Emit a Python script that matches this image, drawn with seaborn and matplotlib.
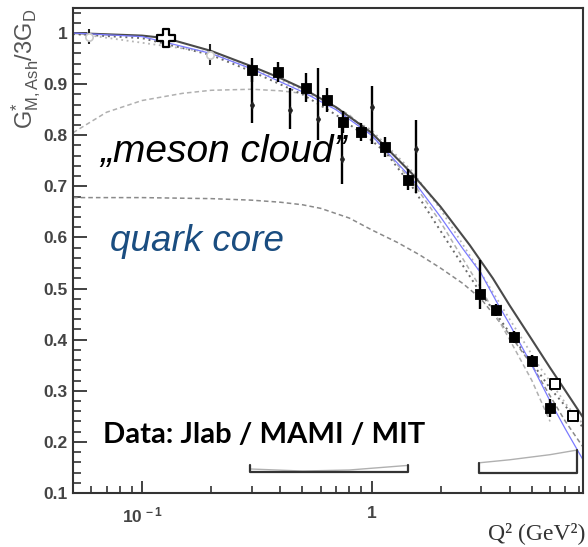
import numpy as np
import pandas as pd
import matplotlib
matplotlib.use("Agg")
import matplotlib.pyplot as plt
from matplotlib.ticker import MultipleLocator, LogLocator, NullFormatter
import seaborn as sns

# ---------------- data ----------------
# filled squares (JLab / MAMI)
sq_x = [0.30, 0.39, 0.52, 0.64, 0.75, 0.90, 1.14, 1.44, 2.96, 3.48, 4.17, 5.0, 6.0]
sq_y = [0.928, 0.924, 0.893, 0.869, 0.826, 0.806, 0.777, 0.713, 0.489, 0.458, 0.405, 0.358, 0.266]
sq_lo = [0.023, 0.020, 0.028, 0.024, 0.022, 0.018, 0.020, 0.020, 0.029, 0.012, 0.012, 0.012, 0.017]
sq_hi = [0.023, 0.020, 0.028, 0.024, 0.022, 0.018, 0.020, 0.020, 0.067, 0.012, 0.012, 0.012, 0.017]

# small points with large error bars
pt_x = [0.30, 0.443, 0.587, 0.747, 1.0, 1.56]
pt_y = [0.859, 0.849, 0.832, 0.754, 0.855, 0.773]
pt_lo = [0.035, 0.037, 0.041, 0.049, 0.072, 0.086]
pt_hi = [0.070, 0.044, 0.100, 0.070, 0.041, 0.057]

# faint low-Q2 points
fp_x = [0.059, 0.198]
fp_y = [0.993, 0.958]
fp_err = [0.014, 0.020]

# open cross (real photon point)
oc_x = [0.127]
oc_y = [0.990]

# open squares
os_x = [6.3, 7.55]
os_y = [0.313, 0.251]

# model curves
solid_x = [0.05, 0.1, 0.127, 0.2, 0.3, 0.4, 0.5, 0.7, 1.0, 1.5, 2.0, 2.68, 3.38, 4.0, 5.0, 6.0, 7.0, 8.35]
solid_y = [1.0, 0.995, 0.99, 0.965, 0.935, 0.912, 0.892, 0.855, 0.805, 0.725, 0.66, 0.585, 0.52, 0.467, 0.40, 0.345, 0.30, 0.248]

blue_x = [0.05, 0.1, 0.2, 0.3, 0.5, 0.7, 1.0, 1.5, 2.0, 2.5, 3.0, 3.5, 4.0, 5.0, 6.0, 7.0, 8.35]
blue_y = [1.0, 0.993, 0.960, 0.930, 0.885, 0.850, 0.800, 0.715, 0.640, 0.578, 0.530, 0.475, 0.430, 0.350, 0.280, 0.225, 0.165]

dot_x = [0.05, 0.1, 0.2, 0.3, 0.5, 0.7, 1.0, 1.16, 1.5, 2.12, 3.0, 3.5, 4.2, 5.0, 6.0, 7.0, 8.35]
dot_y = [0.998, 0.990, 0.957, 0.925, 0.880, 0.840, 0.790, 0.765, 0.700, 0.595, 0.490, 0.450, 0.400, 0.355, 0.305, 0.270, 0.228]

ldot_x = [0.05, 0.2, 0.5, 1.0, 1.5, 2.0, 3.0, 4.0, 5.4, 7.2, 8.35]
ldot_y = [1.0, 0.962, 0.890, 0.810, 0.730, 0.655, 0.530, 0.440, 0.347, 0.268, 0.235]

meson_x = [0.05, 0.07, 0.1, 0.15, 0.2, 0.3, 0.4, 0.5, 0.6, 0.8, 1.0, 1.5, 2.0, 3.0, 4.0, 5.0, 6.0]
meson_y = [0.805, 0.845, 0.868, 0.882, 0.888, 0.890, 0.887, 0.882, 0.872, 0.840, 0.800, 0.710, 0.630, 0.500, 0.400, 0.320, 0.240]

quark_x = [0.05, 0.1, 0.2, 0.3, 0.4, 0.5, 0.6, 0.8, 1.0, 1.3, 1.62, 2.0, 2.5, 3.0, 4.0, 5.0, 6.0, 7.0, 8.35]
quark_y = [0.678, 0.678, 0.676, 0.673, 0.669, 0.664, 0.657, 0.638, 0.615, 0.590, 0.566, 0.540, 0.510, 0.480, 0.410, 0.350, 0.290, 0.240, 0.190]

# systematic-error brackets
br1_x = [0.296, 0.296, 1.44, 1.44]
br1_y = [0.155, 0.141, 0.141, 0.155]
br2_x = [2.93, 2.93, 7.86, 7.86]
br2_y = [0.159, 0.139, 0.139, 0.184]
sys1_x = [0.296, 0.5, 0.8, 1.44]
sys1_y = [0.147, 0.143, 0.145, 0.154]
sys2_x = [2.93, 4.0, 6.0, 7.86]
sys2_y = [0.159, 0.165, 0.175, 0.184]

yticks = [0.1, 0.2, 0.3, 0.4, 0.5, 0.6, 0.7, 0.8, 0.9, 1.0]
ytick_labels = ["0.1", "0.2", "0.3", "0.4", "0.5", "0.6", "0.7", "0.8", "0.9", "1"]
xticks = [0.1, 1.0]
xtick_labels = [r"$\mathbf{10^{\,-1}}$", r"$\mathbf{1}$"]

# ---------------- style ----------------
sns.set_theme(style="white")
plt.rcParams['font.family'] = ['Liberation Sans', 'DejaVu Sans']
plt.rcParams['mathtext.fontset'] = 'custom'
plt.rcParams['mathtext.rm'] = 'Liberation Sans'
plt.rcParams['mathtext.it'] = 'Liberation Sans:italic'
plt.rcParams['mathtext.bf'] = 'Liberation Sans:bold'

fig = plt.figure(figsize=(5.88, 5.47), dpi=100)
ax = fig.add_axes([73/588, 1-493/547, 510/588, 485/547])
ax.set_xscale('log')


def line(xs, ys, **kw):
    sns.lineplot(x=xs, y=ys, ax=ax, sort=False, estimator=None, errorbar=None, **kw)


# curves
line(quark_x, quark_y, color='#8a8a8a', lw=1.1, linestyle=(0, (3, 2)))
line(meson_x, meson_y, color='#b0b0b0', lw=1.1, linestyle=(0, (3, 2)))
line(ldot_x, ldot_y, color='#b5b5b5', lw=1.3, linestyle=(0, (1, 2)))
line(dot_x, dot_y, color='#6a6a6a', lw=1.4, linestyle=(0, (1, 2)))
line(solid_x, solid_y, color='#4a4a4a', lw=1.5)
line(blue_x, blue_y, color='#7a7aff', lw=0.9)

# systematic brackets
line(sys1_x, sys1_y, color='#b0b0b0', lw=1.0)
line(sys2_x, sys2_y, color='#b0b0b0', lw=1.0)
line(br1_x, br1_y, color='#333333', lw=1.6)
line(br2_x, br2_y, color='#333333', lw=1.6)

# error bars
ax.errorbar(pt_x, pt_y, yerr=[pt_lo, pt_hi], fmt='none', ecolor='black', elinewidth=1.7, capsize=0, zorder=4)
ax.errorbar(sq_x, sq_y, yerr=[sq_lo, sq_hi], fmt='none', ecolor='black', elinewidth=1.7, capsize=0, zorder=4)
ax.errorbar(fp_x, fp_y, yerr=fp_err, fmt='none', ecolor='#222222', elinewidth=1.5, capsize=0, zorder=4)

# markers
sns.scatterplot(x=fp_x, y=fp_y, ax=ax, marker='o', s=28, color='white', edgecolor='#c8c8c8', linewidth=1.2, zorder=5)
sns.scatterplot(x=pt_x, y=pt_y, ax=ax, marker='d', s=16, color='#222222', edgecolor='#222222', zorder=5)
sns.scatterplot(x=sq_x, y=sq_y, ax=ax, marker='s', s=58, color='black', edgecolor='black', zorder=6)
sns.scatterplot(x=oc_x, y=oc_y, ax=ax, marker='P', s=150, color='white', edgecolor='black', linewidth=1.6, zorder=6)
sns.scatterplot(x=os_x, y=os_y, ax=ax, marker='s', s=60, color='white', edgecolor='black', linewidth=1.4, zorder=6)

ax.set_xlim(0.05, 8.35)
ax.set_ylim(0.1, 1.049)

# axes / ticks
for s in ax.spines.values():
    s.set_color('#333333')
    s.set_linewidth(1.5)
    s.set_visible(True)

ax.set_yticks(yticks)
ax.set_yticklabels(ytick_labels)
ax.yaxis.set_minor_locator(MultipleLocator(0.02))
ax.set_xticks(xticks)
ax.set_xticklabels(xtick_labels)
ax.xaxis.set_minor_locator(LogLocator(base=10, subs=np.arange(2, 10)))
ax.xaxis.set_minor_formatter(NullFormatter())

ax.tick_params(axis='y', which='major', direction='in', length=10, width=1.3, left=True, right=False,
               labelsize=12.5, labelcolor='#444444', color='#333333', pad=4)
ax.tick_params(axis='y', which='minor', direction='in', length=6, width=1.2, left=True, right=False, color='#333333')
ax.tick_params(axis='x', which='major', direction='in', length=9, width=1.3, bottom=True, top=False,
               labelsize=12.5, labelcolor='#444444', color='#333333', pad=9)
ax.tick_params(axis='x', which='minor', direction='in', length=5, width=1.2, bottom=True, top=False, color='#333333')
for lbl in ax.get_yticklabels():
    lbl.set_fontweight('bold')

# texts
ax.text(0.053, 0.682, "\u201emeson cloud\u201d", transform=ax.transAxes, fontsize=28, style='italic',
        color='black', ha='left', va='baseline', family=['Liberation Sans', 'DejaVu Sans'])
ax.text(0.0725, 0.499, "quark core", transform=ax.transAxes, fontsize=26.5, style='italic',
        color='#1a4d80', ha='left', va='baseline', family=['Liberation Sans', 'DejaVu Sans'])
ax.text(0.0588, 0.103, "Data: Jlab / MAMI / MIT", transform=ax.transAxes, fontsize=21, fontweight='bold',
        color='black', ha='left', va='baseline', family=['Lato', 'DejaVu Sans'])

fig.text(26/588, 1-9/547, r"$\mathregular{G^{*}_{M,Ash}/3G_D}$", rotation=90, ha='center', va='top',
         fontsize=17, color='#555555')
fig.text(585/588, 1-533/547, "Q\u00b2 (GeV\u00b2)", ha='right', va='center', fontsize=17, color='#333333',
         family=['Liberation Serif', 'DejaVu Serif'])

fig.savefig("out.png", dpi=100)
